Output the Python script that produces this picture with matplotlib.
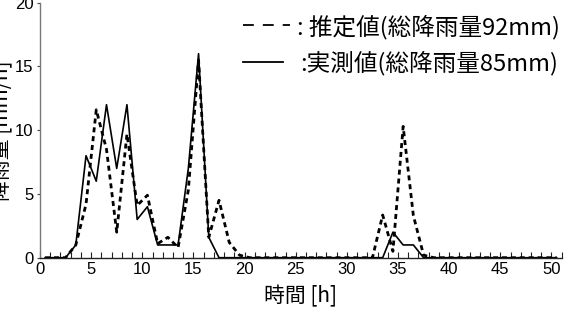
import numpy as np
import matplotlib
matplotlib.use("Agg")
import matplotlib.pyplot as plt
from matplotlib.lines import Line2D
from matplotlib.ticker import MultipleLocator

plt.rcParams['font.family'] = ['Liberation Sans', 'Noto Sans CJK JP', 'DejaVu Sans']
CJK = ['Noto Sans CJK JP', 'DejaVu Sans']

# hourly rainfall, hour index 1..51 plotted at hour midpoints
hours = np.arange(1, 52)
estimated = [0, 0, 0, 1.0, 4.2, 11.6, 8.5, 2.0, 9.7, 4.1, 4.9, 1.1, 1.6, 0.8, 5.3, 15.5,
             1.6, 4.5, 1.2, 0.2, 0, 0, 0, 0, 0, 0, 0, 0, 0, 0, 0, 0, 0, 3.35, 0.5, 10.3,
             3.3, 0.2, 0, 0, 0, 0, 0, 0, 0, 0, 0, 0, 0, 0, 0]
observed = [0, 0, 0, 1, 8, 6, 12, 7, 12, 3, 4, 1, 1, 1, 7, 16,
            1.6, 0, 0, 0, 0, 0, 0, 0, 0, 0, 0, 0, 0, 0, 0, 0, 0, 0, 2, 1,
            1, 0, 0, 0, 0, 0, 0, 0, 0, 0, 0, 0, 0, 0, 0]
x_ticks = [0, 5, 10, 15, 20, 25, 30, 35, 40, 45, 50]
y_ticks = [0, 5, 10, 15, 20]
legend_est = ': 推定値(総降雨量92mm)'
legend_obs = ':実測値(総降雨量85mm)'
xlabel = '時間 [h]'
ylabel = '降雨量 [mm/h]'

W, H = 568, 313
fig = plt.figure(figsize=(W / 100, H / 100), dpi=100)
ax = fig.add_axes([40 / W, 1 - 257.7 / H, 521.7 / W, 255 / H])

xs = hours - 0.5
ax.plot(xs, estimated, color='black', lw=2.0, linestyle=(0, (1.8, 1.4)), zorder=3)
ax.plot(xs, observed, color='black', lw=1.2, linestyle='-', zorder=4)

ax.set_xlim(0, 51)
ax.set_ylim(0, 20)
ax.set_xticks(x_ticks)
ax.set_yticks(y_ticks)
ax.xaxis.set_minor_locator(MultipleLocator(1))
ax.tick_params(axis='x', which='both', direction='in', length=4.5, width=0.8,
               labelsize=12, pad=3, color='#222222')
ax.tick_params(axis='y', which='both', direction='out', length=2.5, width=0.8,
               labelsize=12, pad=2, color='#444444')
for s in ['top', 'right']:
    ax.spines[s].set_visible(False)
ax.spines['left'].set_color('#777777')
ax.spines['left'].set_linewidth(1.0)
ax.spines['bottom'].set_color('#222222')
ax.spines['bottom'].set_linewidth(1.0)

ax.set_xlabel(xlabel, fontsize=15, labelpad=6, family=CJK)
ax.set_ylabel(ylabel, fontsize=15, family=CJK)
ax.yaxis.set_label_coords(-27 / 521.7, 0.5)

# legend as text
fig.add_artist(Line2D([243 / W, 290 / W], [1 - 25 / H, 1 - 25 / H], color='black',
                      lw=1.3, linestyle=(0, (6, 5))))
fig.text(297 / W, 1 - 27 / H, legend_est, fontsize=17, va='center', ha='left',
         family=CJK)
fig.add_artist(Line2D([243 / W, 283 / W], [1 - 62 / H, 1 - 62 / H], color='black',
                      lw=1.3))
fig.text(300 / W, 1 - 63 / H, legend_obs, fontsize=17, va='center', ha='left',
         family=CJK)

fig.savefig('out.png', dpi=100)
